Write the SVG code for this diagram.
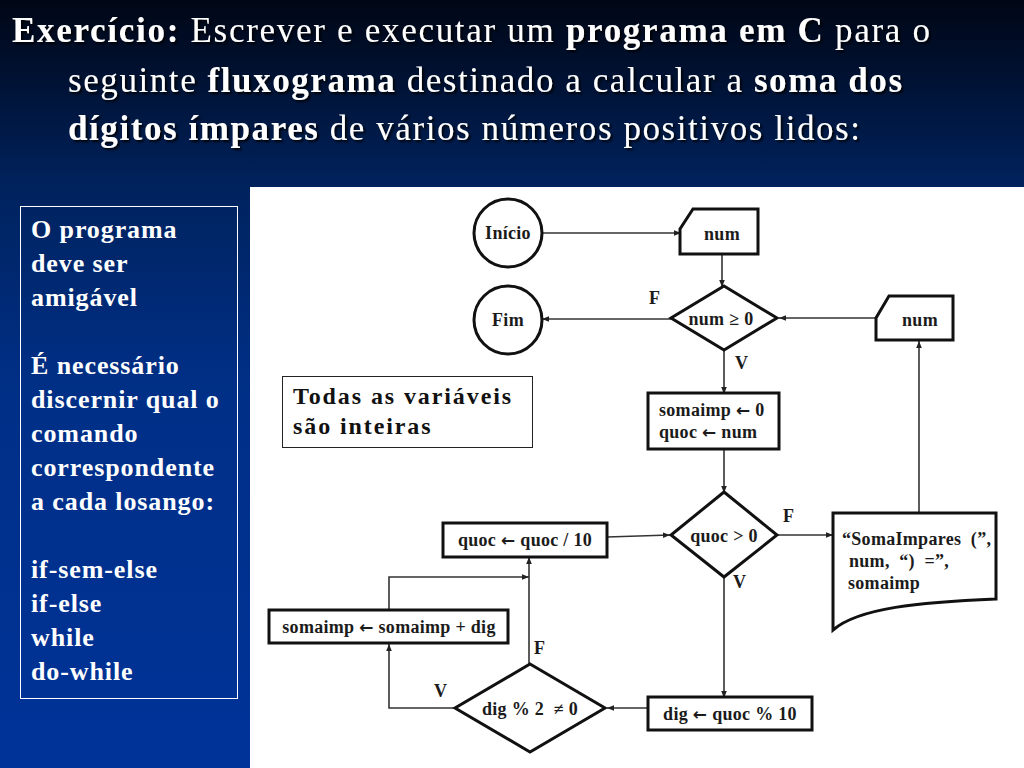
<svg xmlns="http://www.w3.org/2000/svg" width="1024" height="768" viewBox="0 0 1024 768">
<defs>
<linearGradient id="bg" x1="0" y1="0" x2="0" y2="1">
<stop offset="0" stop-color="#000615"/>
<stop offset="0.25" stop-color="#00235f"/>
<stop offset="0.5" stop-color="#002f86"/>
<stop offset="1" stop-color="#003399"/>
</linearGradient>
<filter id="sh" x="-5%" y="-20%" width="110%" height="140%">
<feDropShadow dx="2" dy="2" stdDeviation="0.8" flood-color="#000000" flood-opacity="0.9"/>
</filter>
<marker id="ar" markerWidth="8" markerHeight="8" refX="7" refY="4" orient="auto" markerUnits="userSpaceOnUse">
<path d="M0,1.2 L7,4 L0,6.8 Z" fill="#222"/>
</marker>
</defs>
<style>
.title{font-family:"Liberation Serif",serif;font-size:35px;fill:#ffffff}
.b{font-weight:bold}
.side{font-family:"Liberation Serif",serif;font-size:26px;font-weight:bold;fill:#ffffff;letter-spacing:0.9px}
.shape{fill:#ffffff;stroke:#111;stroke-width:3}
.lbl{font-family:"Liberation Serif",serif;font-size:18px;font-weight:bold;fill:#1b1b1b;letter-spacing:0.3px;white-space:pre}
.arr{font-family:"DejaVu Sans",sans-serif;font-size:17px;font-weight:bold}
.tf{font-family:"Liberation Serif",serif;font-size:18px;font-weight:bold;fill:#1b1b1b}
.con{fill:none;stroke:#333;stroke-width:1.6}
.note{font-family:"Liberation Serif",serif;font-size:24px;font-weight:bold;fill:#111;letter-spacing:1.9px}
</style>
<rect x="0" y="0" width="1024" height="768" fill="url(#bg)"/>
<g id="title" filter="url(#sh)">
<text class="title" x="12" y="42" textLength="918" lengthAdjust="spacing"><tspan class="b">Exercício:</tspan> Escrever e executar um <tspan class="b">programa em C</tspan> para o</text>
<text class="title" x="68" y="92" textLength="834" lengthAdjust="spacing">seguinte <tspan class="b">fluxograma</tspan> destinado a calcular a <tspan class="b">soma dos</tspan></text>
<text class="title" x="68" y="140" textLength="792" lengthAdjust="spacing"><tspan class="b">dígitos ímpares</tspan> de vários números positivos lidos:</text>
</g>
<g id="sidebox">
<rect x="20.5" y="206.5" width="217" height="492" fill="none" stroke="#ffffff" stroke-width="1"/>
<text class="side" x="31" y="238">O programa</text>
<text class="side" x="31" y="272">deve ser</text>
<text class="side" x="31" y="306">amigável</text>
<text class="side" x="31" y="374">É necessário</text>
<text class="side" x="31" y="408">discernir qual o</text>
<text class="side" x="31" y="442">comando</text>
<text class="side" x="31" y="476">correspondente</text>
<text class="side" x="31" y="510">a cada losango:</text>
<text class="side" x="31" y="578">if-sem-else</text>
<text class="side" x="31" y="612">if-else</text>
<text class="side" x="31" y="646">while</text>
<text class="side" x="31" y="680">do-while</text>
</g>
<rect x="250" y="187" width="774" height="581" fill="#ffffff"/>
<g id="connectors">
<line class="con" x1="542" y1="233" x2="681" y2="233" marker-end="url(#ar)"/>
<line class="con" x1="722" y1="254" x2="722" y2="287" marker-end="url(#ar)"/>
<line class="con" x1="671" y1="319" x2="542" y2="319" marker-end="url(#ar)"/>
<line class="con" x1="876" y1="318" x2="779" y2="318" marker-end="url(#ar)"/>
<line class="con" x1="919" y1="513" x2="919" y2="341" marker-end="url(#ar)"/>
<line class="con" x1="724" y1="350" x2="724" y2="394" marker-end="url(#ar)"/>
<line class="con" x1="724" y1="449" x2="724" y2="493" marker-end="url(#ar)"/>
<line class="con" x1="778" y1="535" x2="833" y2="535" marker-end="url(#ar)"/>
<line class="con" x1="724" y1="577" x2="724" y2="698" marker-end="url(#ar)"/>
<line class="con" x1="648" y1="708" x2="607" y2="708" marker-end="url(#ar)"/>
<polyline class="con" points="454,708 389,708 389,644" marker-end="url(#ar)"/>
<polyline class="con" points="389,610 389,577 529,577" marker-end="url(#ar)"/>
<line class="con" x1="529" y1="664" x2="529" y2="557" marker-end="url(#ar)"/>
<line class="con" x1="607" y1="537" x2="670" y2="535" marker-end="url(#ar)"/>
<text class="tf" x="649" y="304">F</text>
<text class="tf" x="735" y="369">V</text>
<text class="tf" x="783" y="522">F</text>
<text class="tf" x="733" y="588">V</text>
<text class="tf" x="534" y="654">F</text>
<text class="tf" x="434" y="697">V</text>
</g>
<g id="inicio">
<circle class="shape" cx="508" cy="233" r="34"/>
<text class="lbl" x="508" y="239" text-anchor="middle">Início</text>
</g>
<g id="fim">
<circle class="shape" cx="508" cy="320" r="34"/>
<text class="lbl" x="508" y="326" text-anchor="middle">Fim</text>
</g>
<g id="lernum1">
<path class="shape" d="M693,209 H758 V254 H680 V229 Z"/>
<text class="lbl" x="722" y="240" text-anchor="middle">num</text>
</g>
<g id="cond1">
<path class="shape" d="M724,286 L777,318 L724,350 L671,318 Z"/>
<text class="lbl" x="721" y="325" text-anchor="middle">num ≥ 0</text>
</g>
<g id="lernum2">
<path class="shape" d="M889,296 H953 V340 H876 V318 Z"/>
<text class="lbl" x="920" y="326" text-anchor="middle">num</text>
</g>
<g id="init">
<rect class="shape" x="648" y="393" width="131" height="56"/>
<text class="lbl" x="659" y="416">somaimp <tspan class="arr">←</tspan> 0</text>
<text class="lbl" x="659" y="438">quoc <tspan class="arr">←</tspan> num</text>
</g>
<g id="nota">
<rect x="282.5" y="376.5" width="250" height="71" fill="#ffffff" stroke="#222" stroke-width="1"/>
<text class="note" x="293" y="404">Todas as variáveis</text>
<text class="note" x="293" y="434">são inteiras</text>
</g>
<g id="cond2">
<path class="shape" d="M724,492 L777,535 L724,577 L671,535 Z"/>
<text class="lbl" x="724" y="542" text-anchor="middle">quoc &gt; 0</text>
</g>
<g id="saida">
<path class="shape" d="M833,513 H996 V599 C920,602 858,608 833,630 Z"/>
<text class="lbl" x="842" y="545">“SomaImpares  (”,</text>
<text class="lbl" x="849" y="567">num,  “)  =”,</text>
<text class="lbl" x="848" y="589">somaimp</text>
</g>
<g id="quocdiv">
<rect class="shape" x="443" y="523" width="164" height="34"/>
<text class="lbl" x="525" y="546" text-anchor="middle">quoc <tspan class="arr">←</tspan> quoc / 10</text>
</g>
<g id="soma">
<rect class="shape" x="269" y="610" width="239" height="33"/>
<text class="lbl" x="389" y="633" text-anchor="middle">somaimp <tspan class="arr">←</tspan> somaimp + dig</text>
</g>
<g id="cond3">
<path class="shape" d="M530,664 L605,708 L530,752 L455,708 Z"/>
<text class="lbl" x="530" y="715" text-anchor="middle">dig % 2  ≠ 0</text>
</g>
<g id="digbox">
<rect class="shape" x="648" y="697" width="164" height="33"/>
<text class="lbl" x="730" y="720" text-anchor="middle">dig <tspan class="arr">←</tspan> quoc % 10</text>
</g>
</svg>
